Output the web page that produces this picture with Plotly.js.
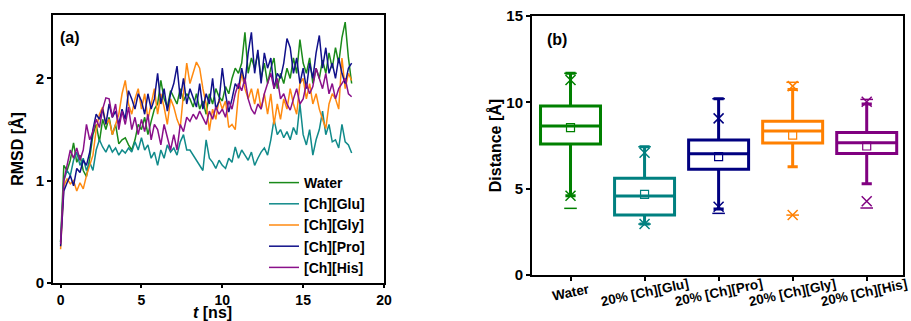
<!DOCTYPE html>
<html>
<head>
<meta charset="utf-8">
<script src="https://cdn.plot.ly/plotly-3.0.1.min.js"></script>
<style>html,body{margin:0;padding:0;background:#fff;}#chart{width:911px;height:321px;}</style>
</head>
<body>
<div id="chart"></div>
<script>
// ---- Panel (a): RMSD time series ----
const time = [0,0.2,0.4,0.6,0.8,1.0,1.2,1.4,1.6,1.8,2.0,2.2,2.4,2.6,2.8,3.0,3.2,3.4,3.6,3.8,
  4.0,4.2,4.4,4.6,4.8,5.0,5.2,5.4,5.6,5.8,6.0,6.2,6.4,6.6,6.8,7.0,7.2,7.4,7.6,7.8,
  8.0,8.2,8.4,8.6,8.8,9.0,9.2,9.4,9.6,9.8,10.0,10.2,10.4,10.6,10.8,11.0,11.2,11.4,11.6,11.8,
  12.0,12.2,12.4,12.6,12.8,13.0,13.2,13.4,13.6,13.8,14.0,14.2,14.4,14.6,14.8,15.0,15.2,15.4,15.6,15.8,
  16.0,16.2,16.4,16.6,16.8,17.0,17.2,17.4,17.6,17.8,18.0];

const rmsdWater = [0.40,1.15,1.10,1.20,1.37, 1.18,1.25,1.10,1.04,1.22, 1.45,1.55,1.38,1.60,1.50,
  1.62,1.45,1.55,1.36,1.40, 1.42,1.35,1.30,1.40,1.55, 1.50,1.62,1.45,1.58,1.70,
  1.75,1.98,1.80,1.72,1.88, 1.82,1.75,1.90,1.78,1.85, 1.80,1.72,1.85,1.70,1.78,
  1.65,1.85,1.75,1.90,1.82, 1.78,1.92,1.85,2.00,2.10, 2.05,2.15,2.45,2.05,2.20,
  2.10,2.25,2.00,2.15,1.95, 2.10,2.20,1.90,2.05,1.95, 2.10,2.00,2.20,2.05,2.38,
  2.15,2.05,2.20,1.95,2.10, 2.00,2.18,2.05,2.25,2.10, 2.30,2.15,2.40,2.55,2.20, 1.95];

const rmsdGlu = [0.40,1.00,1.10,1.05,1.20, 1.28,1.15,1.22,1.10,1.18, 1.10,1.30,1.40,1.33,1.28,
  1.35,1.28,1.32,1.25,1.30, 1.27,1.32,1.28,1.38,1.30, 1.42,1.30,1.35,1.22,1.28,
  1.15,1.30,1.22,1.35,1.28, 1.32,1.25,1.38,1.45,1.30, 1.30,1.25,1.20,1.15,1.10,
  1.40,1.22,1.18,1.12,1.20, 1.15,1.12,1.22,1.18,1.33, 1.22,1.30,1.25,1.20,1.28,
  1.15,1.22,1.28,1.32,1.25, 1.40,1.60,1.45,1.50,1.42, 1.48,1.40,1.52,1.45,1.75,
  1.45,1.35,1.50,1.25,1.40, 1.50,1.68,1.45,1.55,1.38, 1.40,1.32,1.55,1.38,1.35, 1.27];

const rmsdGly = [0.33,0.95,1.02,0.97,1.00, 0.90,0.98,0.92,1.05,1.15, 1.25,1.50,1.65,1.72,1.55,
  1.60,1.45,1.55,1.65,1.85, 1.98,1.75,1.65,1.80,1.90, 1.70,1.85,1.60,1.75,1.90,
  1.65,1.85,1.72,1.55,1.80, 1.72,1.60,1.52,1.85,2.15, 1.95,2.05,2.16,2.10,1.90,
  1.75,1.49,1.70,1.60,1.80, 1.70,1.78,1.52,1.55,1.50, 1.85,2.05,1.90,1.80,1.90,
  1.75,1.90,1.70,1.85,1.65, 1.85,1.55,1.75,1.60,1.80, 1.70,1.90,1.75,1.65,1.95,
  2.00,1.80,1.95,1.75,1.85, 1.70,1.60,1.51,1.75,1.85, 1.80,1.70,2.20,1.90,2.05, 1.98];

const rmsdPro = [0.36,0.90,0.98,1.05,0.95, 1.12,1.08,1.20,1.15,1.28, 1.50,1.65,1.60,1.70,1.55,
  1.75,1.62,1.68,1.55,1.70, 1.60,1.88,1.80,1.70,1.85, 1.78,1.65,1.85,1.70,1.80,
  2.05,1.75,1.90,1.68,1.85, 1.95,2.12,1.80,2.00,1.75, 1.90,1.80,1.72,1.95,1.70,
  1.85,1.75,2.00,1.70,1.78, 2.10,1.85,1.67,1.80,1.95, 1.90,2.10,1.95,2.25,2.45,
  2.05,2.28,1.95,2.25,2.10, 2.20,1.90,2.05,2.00,2.15, 2.39,2.30,2.05,2.20,1.95,
  2.10,1.90,2.15,2.00,2.25, 2.42,2.10,2.30,2.05,2.15, 2.00,2.20,2.05,1.95,2.10, 2.15];

const rmsdHis = [0.38,1.00,1.15,1.30,1.22, 1.32,1.20,1.30,1.55,1.40, 1.48,1.60,1.52,1.70,1.81,
  1.80,1.62,1.75,1.50,1.68, 1.55,1.72,1.50,1.62,1.45, 1.60,1.48,1.65,1.40,1.55,
  1.50,1.35,1.55,1.42,1.30, 1.45,1.30,1.55,1.48,1.62, 1.58,1.65,1.60,1.68,1.62,
  1.55,1.68,1.60,1.72,1.65, 1.70,1.62,1.78,1.70,1.85, 1.95,1.88,2.00,1.80,1.70,
  1.65,1.75,1.70,1.85,1.95, 2.05,1.90,2.00,1.80,1.85, 1.75,1.69,1.80,1.90,1.75,
  1.80,1.95,1.85,1.92,2.10, 2.00,1.90,2.05,1.85,1.95, 1.80,1.90,1.95,2.00,1.85, 1.82];

const seriesNames = ['Water','[Ch][Glu]','[Ch][Gly]','[Ch][Pro]','[Ch][His]'];
const seriesColors = ['#1a8a1a','#108a8a','#ff8a10','#10108a','#8a108a'];
const seriesData = [rmsdWater, rmsdGlu, rmsdGly, rmsdPro, rmsdHis];

// ---- Panel (b): distance box statistics ----
const boxCategories = ['Water','20% [Ch][Glu]','20% [Ch][Pro]','20% [Ch][Gly]','20% [Ch][His]'];
const boxColors = ['#008000','#008080','#000080','#ff8000','#800080'];
const boxQ1 =     [7.59, 3.47, 6.12, 7.64, 7.03];
const boxMedian = [8.63, 4.57, 7.02, 8.34, 7.66];
const boxQ3 =     [9.79, 5.60, 7.82, 8.90, 8.26];
const boxLowWhisker =  [4.59, 2.95, 3.82, 6.27, 5.29];
const boxHighWhisker = [11.68, 7.43, 10.21, 10.75, 9.90];
const boxMean =   [8.53, 4.67, 6.85, 8.10, 7.47];
const boxP1 =     [4.59, 2.95, 3.95, 3.47, 4.27];
const boxP99 =    [11.29, 7.08, 9.07, 10.94, 10.03];
const boxMin =    [3.86, 2.95, 3.57, 3.47, 3.88];
const boxMax =    [11.68, 7.43, 10.21, 11.16, 10.17];

const FONT = 'Liberation Sans, Arial, sans-serif';
const traces = [];

seriesData.forEach((vals, i) => {
  traces.push({
    type: 'scatter', mode: 'lines', x: time, y: vals,
    name: seriesNames[i], xaxis: 'x', yaxis: 'y',
    line: {color: seriesColors[i], width: 1.5},
    showlegend: true
  });
});

const pos = boxCategories.map((c, i) => i);
boxCategories.forEach((c, i) => {
  traces.push({
    type: 'box', x: [pos[i]], q1: [boxQ1[i]], median: [boxMedian[i]], q3: [boxQ3[i]],
    lowerfence: [boxLowWhisker[i]], upperfence: [boxHighWhisker[i]],
    xaxis: 'x2', yaxis: 'y2', width: 0.81, whiskerwidth: 0.17,
    line: {color: boxColors[i], width: 3}, fillcolor: 'rgba(255,255,255,0)',
    boxpoints: false, showlegend: false, hoverinfo: 'skip'
  });
  traces.push({
    type: 'scatter', mode: 'markers', x: [pos[i]], y: [boxMean[i]],
    xaxis: 'x2', yaxis: 'y2', showlegend: false,
    marker: {symbol: 'square-open', size: 8, color: boxColors[i], line: {width: 1.2, color: boxColors[i]}}
  });
  traces.push({
    type: 'scatter', mode: 'markers', x: [pos[i], pos[i]], y: [boxP1[i], boxP99[i]],
    xaxis: 'x2', yaxis: 'y2', showlegend: false,
    marker: {symbol: 'x-thin-open', size: 10, color: boxColors[i], line: {width: 1.5, color: boxColors[i]}}
  });
  traces.push({
    type: 'scatter', mode: 'markers', x: [pos[i], pos[i]], y: [boxMin[i], boxMax[i]],
    xaxis: 'x2', yaxis: 'y2', showlegend: false,
    marker: {symbol: 'line-ew-open', size: 9, color: boxColors[i], line: {width: 1.5, color: boxColors[i]}}
  });
});

const tickFont = {family: FONT, size: 15, color: '#000', weight: 700};
const titleFont = {family: FONT, size: 16, color: '#000', weight: 700};

const annotations = [
  {text: '(a)', xref: 'paper', yref: 'paper', x: (70 - 53) / 850, y: (283 - 37.5) / 268,
   showarrow: false, font: titleFont, xanchor: 'center', yanchor: 'middle'},
  {text: '(b)', xref: 'paper', yref: 'paper', x: (557 - 53) / 850, y: (283 - 39.5) / 268,
   showarrow: false, font: titleFont, xanchor: 'center', yanchor: 'middle'},
  {text: '<i>t</i> [ns]', xref: 'paper', yref: 'paper', x: (212.5 - 53) / 850, y: (283 - 312) / 268,
   showarrow: false, font: titleFont, xanchor: 'center', yanchor: 'middle'}
];
boxCategories.forEach((c, i) => {
  annotations.push({text: c, xref: 'x2', yref: 'paper', x: pos[i] - (i === 4 ? 0.03 : 0), y: (283 - 292) / 268,
    showarrow: false, textangle: -12, xanchor: 'center', yanchor: 'middle',
    font: {family: FONT, size: 13.5, color: '#000', weight: 700}});
});

const axisCommon = {
  showline: true, linecolor: '#000', linewidth: 2, mirror: true,
  ticks: 'outside', ticklen: 4, tickwidth: 2, tickcolor: '#000',
  showgrid: false, zeroline: false, tickfont: tickFont, fixedrange: true
};

const layout = {
  width: 911, height: 321,
  margin: {l: 53, r: 8, t: 15, b: 38},
  paper_bgcolor: '#fff', plot_bgcolor: '#fff',
  font: {family: FONT, color: '#000'},
  xaxis: Object.assign({}, axisCommon, {
    domain: [0, (384 - 53) / 850], range: [-0.47, 20], tickvals: [0, 5, 10, 15, 20],
    anchor: 'y', ticklen: 3, tickfont: Object.assign({}, tickFont, {size: 14})
  }),
  yaxis: Object.assign({}, axisCommon, {
    domain: [0, 1], range: [0, 2.62], tickvals: [0, 1, 2], anchor: 'x',
    title: {text: 'RMSD [Å]', font: titleFont, standoff: 8}
  }),
  xaxis2: Object.assign({}, axisCommon, {
    domain: [(532 - 53) / 850, 1], range: [-0.52, 4.49], tickvals: pos,
    showticklabels: false, anchor: 'y2'
  }),
  yaxis2: Object.assign({}, axisCommon, {
    domain: [(283 - 275) / 268, (283 - 16) / 268], range: [0, 15], tickvals: [0, 5, 10, 15],
    anchor: 'x2', title: {text: 'Distance [Å]', font: titleFont, standoff: 1}
  }),
  legend: {
    x: (264 - 53) / 850, y: (283 - 167) / 268, xanchor: 'left', yanchor: 'top',
    bgcolor: 'rgba(0,0,0,0)', borderwidth: 0,
    font: {family: FONT, size: 14, color: '#000', weight: 700},
    tracegroupgap: 0
  },
  annotations: annotations,
  showlegend: true
};

Plotly.newPlot('chart', traces, layout, {displayModeBar: false, staticPlot: true});
</script>
</body>
</html>
